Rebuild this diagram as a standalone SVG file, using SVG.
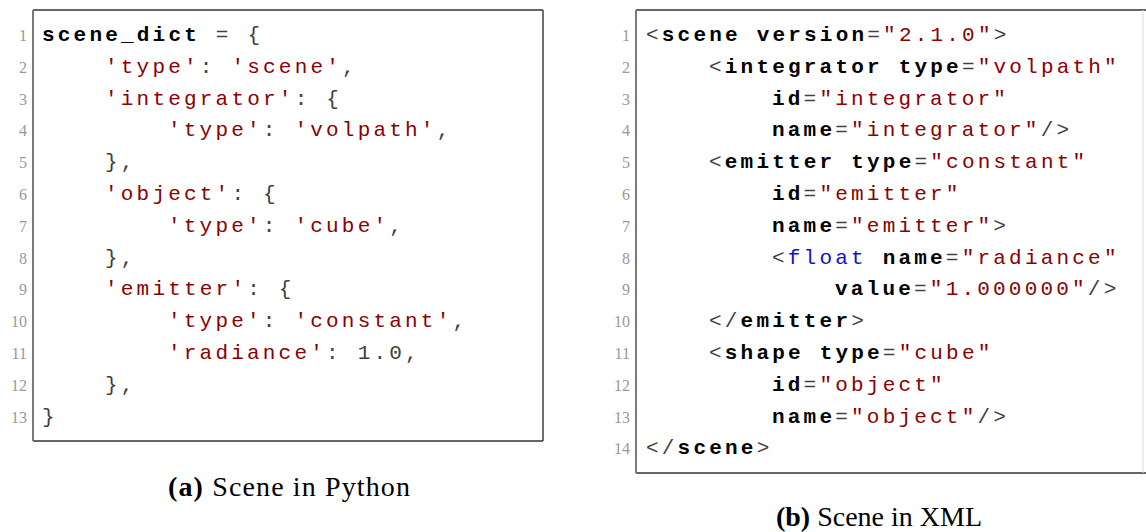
<svg xmlns="http://www.w3.org/2000/svg" width="1146" height="532" viewBox="0 0 1146 532">
<style>
.code{font-family:"Liberation Mono","DejaVu Sans Mono",monospace;font-size:21px;letter-spacing:3.2px;fill:#404040}
.k{font-weight:bold;fill:#000}
.s{fill:#8B0000}
.b{fill:#1010D0}
.ln{font-family:"Liberation Serif","DejaVu Serif",serif;font-size:16px;fill:#999;text-anchor:end}
.cap{font-family:"Liberation Serif","DejaVu Serif",serif;font-size:28px;fill:#000}
.frameL{stroke:#7a7a7a;stroke-width:2;fill:none}
.frameT{stroke:#333;stroke-width:1.4;fill:none}
</style>
<rect width="1146" height="532" fill="#fff"/>
<g id="python-listing">
<line class="frameT" x1="33" y1="10" x2="543" y2="10"/>
<line class="frameT" x1="33" y1="441" x2="543" y2="441"/>
<line class="frameT" x1="543" y1="10" x2="543" y2="441"/>
<line class="frameL" x1="33" y1="10" x2="33" y2="441"/>
<g class="ln">
<text x="27" y="41">1</text><text x="27" y="73">2</text><text x="27" y="105">3</text><text x="27" y="136">4</text><text x="27" y="168">5</text><text x="27" y="200">6</text><text x="27" y="232">7</text><text x="27" y="264">8</text><text x="27" y="295">9</text><text x="27" y="327">10</text><text x="27" y="359">11</text><text x="27" y="391">12</text><text x="27" y="423">13</text>
</g>
<g class="code">
<text x="42" y="41"><tspan class="k">scene_dict</tspan> = {</text>
<text x="105" y="73"><tspan class="s">'type'</tspan>: <tspan class="s">'scene'</tspan>,</text>
<text x="105" y="105"><tspan class="s">'integrator'</tspan>: {</text>
<text x="168" y="136"><tspan class="s">'type'</tspan>: <tspan class="s">'volpath'</tspan>,</text>
<text x="105" y="168">},</text>
<text x="105" y="200"><tspan class="s">'object'</tspan>: {</text>
<text x="168" y="232"><tspan class="s">'type'</tspan>: <tspan class="s">'cube'</tspan>,</text>
<text x="105" y="264">},</text>
<text x="105" y="295"><tspan class="s">'emitter'</tspan>: {</text>
<text x="168" y="327"><tspan class="s">'type'</tspan>: <tspan class="s">'constant'</tspan>,</text>
<text x="168" y="359"><tspan class="s">'radiance'</tspan>: 1.0,</text>
<text x="105" y="391">},</text>
<text x="42" y="423">}</text>
</g>
</g>
<g id="xml-listing">
<line class="frameT" x1="636" y1="10" x2="1146" y2="10"/>
<line class="frameT" x1="636" y1="473" x2="1146" y2="473"/>
<line x1="1143" y1="10" x2="1143" y2="473" stroke="#ddd" stroke-width="1"/>
<line class="frameL" x1="636" y1="10" x2="636" y2="473"/>
<g class="ln">
<text x="630" y="41">1</text><text x="630" y="73">2</text><text x="630" y="105">3</text><text x="630" y="136">4</text><text x="630" y="168">5</text><text x="630" y="200">6</text><text x="630" y="232">7</text><text x="630" y="264">8</text><text x="630" y="295">9</text><text x="630" y="327">10</text><text x="630" y="359">11</text><text x="630" y="391">12</text><text x="630" y="423">13</text><text x="630" y="454">14</text>
</g>
<g class="code">
<text x="646" y="41">&lt;<tspan class="k">scene</tspan> <tspan class="k">version</tspan>=<tspan class="s">"2.1.0"</tspan>&gt;</text>
<text x="709" y="73">&lt;<tspan class="k">integrator</tspan> <tspan class="k">type</tspan>=<tspan class="s">"volpath"</tspan></text>
<text x="772" y="105"><tspan class="k">id</tspan>=<tspan class="s">"integrator"</tspan></text>
<text x="772" y="136"><tspan class="k">name</tspan>=<tspan class="s">"integrator"</tspan>/&gt;</text>
<text x="709" y="168">&lt;<tspan class="k">emitter</tspan> <tspan class="k">type</tspan>=<tspan class="s">"constant"</tspan></text>
<text x="772" y="200"><tspan class="k">id</tspan>=<tspan class="s">"emitter"</tspan></text>
<text x="772" y="232"><tspan class="k">name</tspan>=<tspan class="s">"emitter"</tspan>&gt;</text>
<text x="772" y="264">&lt;<tspan class="b">float</tspan> <tspan class="k">name</tspan>=<tspan class="s">"radiance"</tspan></text>
<text x="835" y="295"><tspan class="k">value</tspan>=<tspan class="s">"1.000000"</tspan>/&gt;</text>
<text x="709" y="327">&lt;/<tspan class="k">emitter</tspan>&gt;</text>
<text x="709" y="359">&lt;<tspan class="k">shape</tspan> <tspan class="k">type</tspan>=<tspan class="s">"cube"</tspan></text>
<text x="772" y="391"><tspan class="k">id</tspan>=<tspan class="s">"object"</tspan></text>
<text x="772" y="423"><tspan class="k">name</tspan>=<tspan class="s">"object"</tspan>/&gt;</text>
<text x="646" y="454">&lt;/<tspan class="k">scene</tspan>&gt;</text>
</g>
</g>
<g id="captions">
<text class="cap" x="168" y="496" textLength="242" lengthAdjust="spacing"><tspan font-weight="bold">(a)</tspan> Scene in Python</text>
<text class="cap" x="879" y="526" text-anchor="middle" font-size="27"><tspan font-weight="bold">(b)</tspan> Scene in XML</text>
</g>
</svg>
